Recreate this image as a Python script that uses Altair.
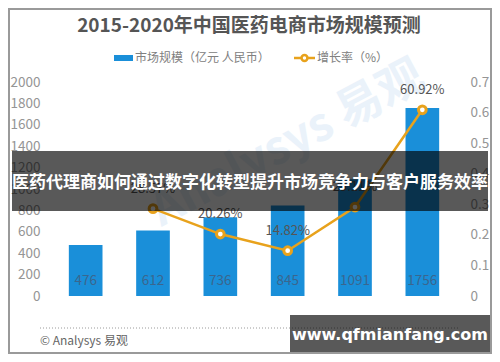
import altair as alt
import pandas as pd

FONT = "Noto Sans CJK SC"

years = ["2015", "2016", "2017", "2018", "2019E", "2020E"]
market = [476, 612, 736, 845, 1091, 1756]
growth_years = ["2016", "2017", "2018", "2019E", "2020E"]
growth = [0.2857, 0.2026, 0.1482, 0.2911, 0.6092]
growth_text = ["28.57%", "20.26%", "14.82%", "29.11%", "60.92%"]
left_ticks = [0, 200, 400, 600, 800, 1000, 1200, 1400, 1600, 1800, 2000]
right_ticks = [0, 0.1, 0.2, 0.3, 0.4, 0.5, 0.6, 0.7]

title = "2015-2020年中国医药电商市场规模预测"
legend_bar = "市场规模（亿元 人民币）"
legend_line = "增长率（%）"
banner = "医药代理商如何通过数字化转型提升市场竞争力与客户服务效率"
source = "© Analysys 易观"
site = "www.qfmianfang.com"
bg_mark = "Analysys 易观"

bar_df = pd.DataFrame({"year": years, "market": market})
line_df = pd.DataFrame({"year": growth_years, "growth": growth, "label": growth_text})
one = pd.DataFrame({"k": [0]})

BLUE = "#1a8fd9"
ORANGE = "#e8a21c"
AXIS_GRAY = "#959595"

X = alt.X("year:N", sort=years,
          scale=alt.Scale(paddingInner=0.5, paddingOuter=0.25),
          axis=alt.Axis(title=None, labelAngle=0, labelFontSize=13.5, labelColor=AXIS_GRAY,
                        domainColor="#e2e2e2", domainWidth=1, ticks=False, labelPadding=11,
                        labelFont=FONT))
X_noaxis = alt.X("year:N", sort=years, scale=alt.Scale(paddingInner=0.5, paddingOuter=0.25), axis=None)

left_scale = alt.Scale(domain=[0, 2000], nice=False)
right_scale = alt.Scale(domain=[0, 0.7], nice=False)

bgtext = alt.Chart(one).mark_text(text=bg_mark, font=FONT, fontSize=46, fontWeight="bold",
                                  color="#eaf2fa", angle=332).encode(
    x=alt.value(236), y=alt.value(62))

bars = alt.Chart(bar_df).mark_bar(color=BLUE).encode(
    x=X,
    y=alt.Y("market:Q", scale=left_scale,
            axis=alt.Axis(orient="left", values=left_ticks, title=None, grid=False, domain=False,
                          ticks=False, labelFontSize=13.5, labelColor=AXIS_GRAY, labelPadding=12,
                          format="d", labelFont=FONT)))

bar_labels = alt.Chart(bar_df).mark_text(font=FONT, fontSize=13.5, color="#3a668e").encode(
    x=X_noaxis, y=alt.value(199), text="market:Q")

line = alt.Chart(line_df).mark_line(color=ORANGE, strokeWidth=2.5).encode(
    x=X_noaxis,
    y=alt.Y("growth:Q", scale=right_scale,
            axis=alt.Axis(orient="right", values=right_ticks, title=None, grid=False, domain=False,
                          ticks=False, labelFontSize=13.5, labelColor=AXIS_GRAY, labelPadding=14,
                          format="~g", labelFont=FONT)))

points = alt.Chart(line_df).mark_point(shape="circle", filled=True, fill="white", stroke=ORANGE,
                                       strokeWidth=3, size=60, opacity=1).encode(
    x=X_noaxis, y=alt.Y("growth:Q", scale=right_scale, axis=None))

glabels = alt.Chart(line_df).mark_text(font=FONT, fontSize=13, color="#555555", dy=-20).encode(
    x=X_noaxis, y=alt.Y("growth:Q", scale=right_scale, axis=None), text="label:N")

title_t = alt.Chart(one).mark_text(text=title, font=FONT, fontSize=19, fontWeight="bold",
                                   color="#555555").encode(x=alt.value(197), y=alt.value(-56))

leg_rect = alt.Chart(one).mark_rect(color=BLUE).encode(
    x=alt.value(62), x2=alt.value(81), y=alt.value(-27), y2=alt.value(-21))
leg_t1 = alt.Chart(one).mark_text(text=legend_bar, font=FONT, fontSize=12, color="#808080",
                                  align="left").encode(x=alt.value(83), y=alt.value(-24))
leg_rule = alt.Chart(one).mark_rule(color=ORANGE, strokeWidth=2.5).encode(
    x=alt.value(242), x2=alt.value(263), y=alt.value(-24))
leg_pt = alt.Chart(one).mark_point(shape="circle", filled=True, fill="white", stroke=ORANGE,
                                   strokeWidth=2.5, size=35, opacity=1).encode(
    x=alt.value(252.5), y=alt.value(-24))
leg_t2 = alt.Chart(one).mark_text(text=legend_line, font=FONT, fontSize=12, color="#808080",
                                  align="left").encode(x=alt.value(265), y=alt.value(-24))

dots = alt.Chart(one).mark_rule(color="#9a9a9a", strokeWidth=1, strokeDash=[1, 2]).encode(
    x=alt.value(-12), x2=alt.value(406), y=alt.value(246))
src = alt.Chart(one).mark_text(text=source, font=FONT, fontSize=12, color="#666666",
                               align="left").encode(x=alt.value(-12), y=alt.value(259))

band = alt.Chart(one).mark_rect(color="black", opacity=0.65).encode(
    x=alt.value(-40), x2=alt.value(436), y=alt.value(69), y2=alt.value(129))
band_t = alt.Chart(one).mark_text(text=banner, font=FONT, fontSize=17, fontWeight="bold",
                                  color="white").encode(x=alt.value(198), y=alt.value(101))

box = alt.Chart(one).mark_rect(color="black", opacity=0.65).encode(
    x=alt.value(238), x2=alt.value(439), y=alt.value(233), y2=alt.value(271))
box_t = alt.Chart(one).mark_text(text=site, font="DejaVu Sans", fontSize=16, fontWeight="bold",
                                 color="white").encode(x=alt.value(338), y=alt.value(253))

border = alt.Chart(one).mark_rect(fill=None, stroke="#9a9a9a", strokeWidth=2).encode(
    x=alt.value(-43), x2=alt.value(439), y=alt.value(-73), y2=alt.value(271))

chart = alt.layer(
    bgtext, bars, bar_labels, line, points, glabels,
    title_t, leg_rect, leg_t1, leg_rule, leg_pt, leg_t2,
    dots, src, band, band_t, box, box_t, border
).resolve_scale(y="independent").properties(
    width=404, height=214,
    padding={"left": 44, "top": 74, "right": 36, "bottom": 58},
    autosize=alt.AutoSizeParams(type="none"),
    background="white"
).configure_view(stroke=None)

chart.save("out.html", embed_options={"renderer": "svg", "actions": False})
